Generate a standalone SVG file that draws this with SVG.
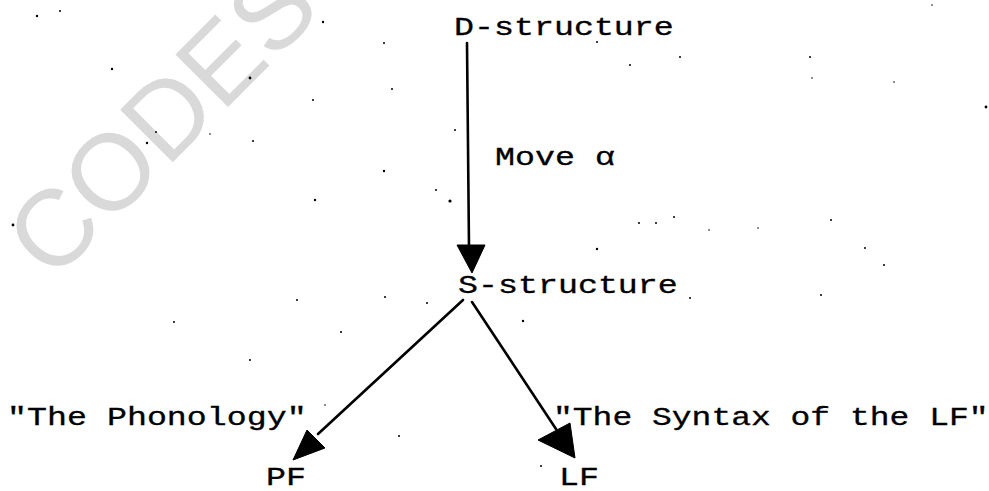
<svg xmlns="http://www.w3.org/2000/svg" width="989" height="491" viewBox="0 0 989 491">
<style>
.t{font-family:"Liberation Mono","Courier New",monospace;font-size:25px;fill:#000;stroke:#000;stroke-width:0.3}
.wm{font-family:"Liberation Sans",Arial,sans-serif;font-size:108px;fill:#d9d9d9}
.ln{stroke:#000;stroke-width:2.6;fill:none;stroke-linecap:round}
.ah{fill:#000;stroke:#000;stroke-width:1;stroke-linejoin:round}
.dot{fill:#000}
</style>
<rect width="989" height="491" fill="#fff"/>
<text class="wm" transform="translate(52,283) rotate(-45)">CODES</text>
<g id="noise">
<circle class="dot" cx="37" cy="16" r="1.2"/><circle class="dot" cx="60" cy="11" r="1"/>
<circle class="dot" cx="112" cy="69" r="1.2"/><circle class="dot" cx="250" cy="78" r="1.4"/>
<circle class="dot" cx="313" cy="100" r="1"/><circle class="dot" cx="392" cy="89" r="1"/>
<circle class="dot" cx="384" cy="43" r="1"/><circle class="dot" cx="323" cy="22" r="1.2"/>
<circle class="dot" cx="147" cy="143" r="1.2"/><circle class="dot" cx="156" cy="132" r="1"/>
<circle class="dot" cx="210" cy="134" r="0.8"/><circle class="dot" cx="253" cy="141" r="1"/>
<circle class="dot" cx="384" cy="171" r="1.2"/><circle class="dot" cx="436" cy="190" r="1"/>
<circle class="dot" cx="450" cy="201" r="1.6"/><circle class="dot" cx="315" cy="200" r="1.2"/>
<circle class="dot" cx="13" cy="225" r="1.4"/><circle class="dot" cx="455" cy="130" r="1"/>
<circle class="dot" cx="597" cy="42" r="1"/><circle class="dot" cx="630" cy="65" r="1"/>
<circle class="dot" cx="680" cy="57" r="1"/><circle class="dot" cx="810" cy="57" r="1"/>
<circle class="dot" cx="812" cy="78" r="0.8"/><circle class="dot" cx="894" cy="82" r="0.8"/>
<circle class="dot" cx="986" cy="107" r="1.4"/><circle class="dot" cx="639" cy="223" r="1"/>
<circle class="dot" cx="656" cy="223" r="1"/><circle class="dot" cx="674" cy="217" r="1"/>
<circle class="dot" cx="709" cy="230" r="0.8"/><circle class="dot" cx="758" cy="228" r="0.8"/>
<circle class="dot" cx="831" cy="220" r="1"/><circle class="dot" cx="597" cy="249" r="1.2"/>
<circle class="dot" cx="865" cy="248" r="1"/><circle class="dot" cx="884" cy="265" r="1"/>
<circle class="dot" cx="690" cy="298" r="1"/><circle class="dot" cx="821" cy="295" r="1"/>
<circle class="dot" cx="297" cy="300" r="1"/><circle class="dot" cx="385" cy="297" r="1"/>
<circle class="dot" cx="427" cy="303" r="1"/><circle class="dot" cx="174" cy="322" r="1"/>
<circle class="dot" cx="341" cy="332" r="1"/><circle class="dot" cx="523" cy="321" r="1.2"/>
<circle class="dot" cx="250" cy="360" r="1"/><circle class="dot" cx="325" cy="405" r="0.8"/>
<circle class="dot" cx="399" cy="436" r="1"/><circle class="dot" cx="541" cy="466" r="1"/>
<circle class="dot" cx="932" cy="5" r="0.8"/>
</g>
<g id="connectors">
<path class="ln" d="M467,43 L469,248"/>
<polygon class="ah" points="457,245 485,245 472,273"/>
<path class="ln" d="M463,300 L318,434"/>
<polygon class="ah" points="293,460 307,430 325,448"/>
<path class="ln" d="M472,302 L556,429"/>
<polygon class="ah" points="575,458 538,440 570,423"/>
</g>
<g id="d-structure"><text class="t" transform="translate(454,35) scale(1.333,1)">D-structure</text></g>
<g id="move-label"><text class="t" transform="translate(495,165) scale(1.333,1)">Move α</text></g>
<g id="s-structure"><text class="t" transform="translate(458,293) scale(1.333,1)">S-structure</text></g>
<g id="phonology-label"><text class="t" transform="translate(7,425) scale(1.333,1)">"The Phonology"</text></g>
<g id="syntax-label"><text class="t" transform="translate(553,425) scale(1.32,1)">"The Syntax of the LF"</text></g>
<g id="pf"><text class="t" transform="translate(266,485) scale(1.333,1)">PF</text></g>
<g id="lf"><text class="t" transform="translate(559,485) scale(1.333,1)">LF</text></g>
</svg>
